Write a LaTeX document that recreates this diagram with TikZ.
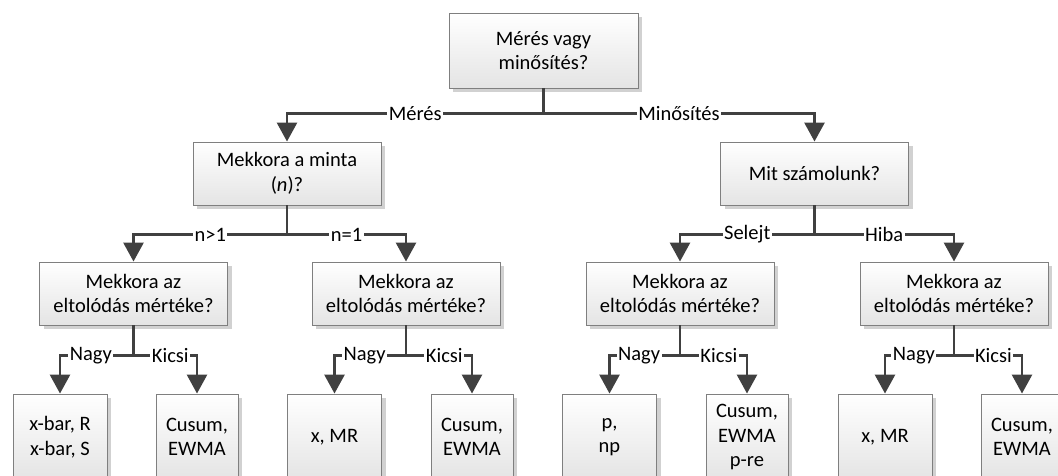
\documentclass[tikz,border=0pt]{standalone}
\usepackage{fontspec}
\setmainfont{Carlito}
\usetikzlibrary{arrows.meta,shadows}
\definecolor{linec}{HTML}{404040}
\definecolor{boxline}{HTML}{7F7F7F}
\definecolor{boxbot}{HTML}{E4E4E4}
\tikzset{
  box/.style={draw=boxline, line width=0.9pt, top color=white, bottom color=boxbot,
    align=center, inner sep=0pt, font=\fontsize{20.5}{24.5}\selectfont,
    drop shadow={shadow xshift=4pt, shadow yshift=-4pt, fill=black!18, opacity=1}},
  qbox/.style={box, minimum width=188pt, minimum height=63pt},
  nbox/.style={box, minimum width=94pt, minimum height=86pt},
  kbox/.style={box, minimum width=82pt, minimum height=86pt},
  conn/.style={draw=linec, line width=2.8pt, -{Triangle[width=20pt,length=19pt]}},
  lbl/.style={fill=white, inner sep=1.5pt, font=\fontsize{20.5}{24.5}\selectfont, text=black}
}
\begin{document}
\begin{tikzpicture}[x=1pt,y=-1pt]
\clip (0,0) rectangle (1058,476);
\useasboundingbox (0,0) rectangle (1058,476);
% nodes
\node[box, minimum width=189pt, minimum height=75pt] (top) at (543.5,50.5) {Mérés vagy\\minősítés?};
\node[qbox] (mb) at (287,173.5) {Mekkora a minta\\(\textit{n})?};
\node[qbox] (ms) at (814.5,173.5) {Mit számolunk?};
\node[qbox] (ea) at (133.5,293.5) {Mekkora az\\eltolódás mértéke?};
\node[qbox] (eb) at (406,293.5) {Mekkora az\\eltolódás mértéke?};
\node[qbox] (ec) at (680,293.5) {Mekkora az\\eltolódás mértéke?};
\node[qbox] (ed) at (954,293.5) {Mekkora az\\eltolódás mértéke?};
\node[nbox] (b1) at (60,437) {x-bar, R\\x-bar, S};
\node[kbox] (b2) at (197,437) {Cusum,\\EWMA};
\node[nbox] (b3) at (334.5,437) {x, MR};
\node[kbox] (b4) at (472,437) {Cusum,\\EWMA};
\node[nbox] (b5) at (609.5,437) {p,\\np};
\node[kbox] (b6) at (747,437) {Cusum,\\EWMA\\p-re};
\node[nbox] (b7) at (885,437) {x, MR};
\node[kbox] (b8) at (1022,437) {Cusum,\\EWMA};
% connectors
\draw[conn] (top.south) -- ++(0,25) -| node[lbl,pos=0.25]{Mérés} (mb.north);
\draw[conn] (top.south) -- ++(0,25) -| node[lbl,pos=0.25]{Minősítés} (ms.north);
\draw[conn] (mb.south) -- ++(0,29) -| node[lbl,pos=0.25]{n>1} (ea.north);
\draw[conn] (mb.south) -- ++(0,29) -| node[lbl,pos=0.25]{n=1} (eb.north);
\draw[conn] (ms.south) -- ++(0,29) -| node[lbl,pos=0.25]{Selejt} (ec.north);
\draw[conn] (ms.south) -- ++(0,29) -| node[lbl,pos=0.25]{Hiba} (ed.north);
\foreach \e/\n/\k in {ea/b1/b2, eb/b3/b4, ec/b5/b6, ed/b7/b8}{
  \draw[conn] (\e.south) -- ++(0,30) -| node[lbl,pos=0.29]{Nagy} (\n.north);
  \draw[conn] (\e.south) -- ++(0,30) -| node[lbl,pos=0.29]{Kicsi} (\k.north);
}
\end{tikzpicture}
\end{document}
